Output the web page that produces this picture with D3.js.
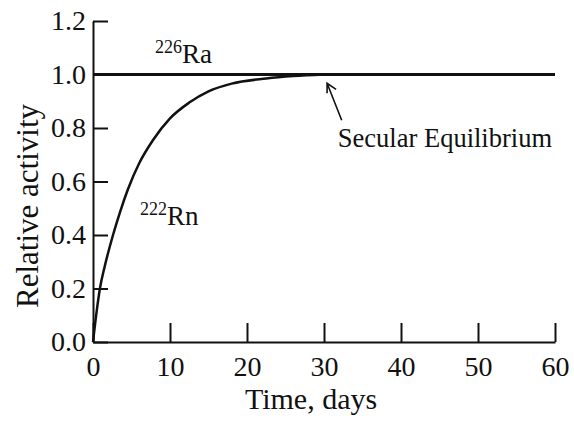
<!DOCTYPE html>
<html>
<head>
<meta charset="utf-8">
<script src="https://cdn.jsdelivr.net/npm/d3@7"></script>
<style>
       html, body { margin: 0; padding: 0; background: #fff; }
       svg { display: block; }
       text { font-family: "Liberation Serif", "Times New Roman", serif; fill: #111; }
</style>
</head>
<body>
<div id="chart"></div>
<script>
// values
const rnDays = [0, 0.5, 0.9, 1.5, 2.6, 3.5, 4.55, 6, 7.8, 10, 12.5, 15, 18, 22.5, 26, 30];
const rnActivity = [0, 0.12, 0.2, 0.28, 0.4, 0.485, 0.572, 0.668, 0.755, 0.836, 0.895, 0.937, 0.966, 0.985, 0.994, 1.0];
const raDays = [0, 60];
const raActivity = [1, 1];
const xTicks = [0, 10, 20, 30, 40, 50, 60];
const yTicks = [0, 0.2, 0.4, 0.6, 0.8, 1.0, 1.2];

const width = 574, height = 421;
const margin = { top: 21, right: 19, bottom: 79, left: 93 };

const svg = d3.select("#chart").append("svg")
       .attr("width", width)
       .attr("height", height);

const x = d3.scaleLinear().domain([0, 60]).range([margin.left, width - margin.right]);
const y = d3.scaleLinear().domain([0, 1.2]).range([height - margin.bottom, margin.top]);

// axes, ticks pointing inward
const xAxis = svg.append("g")
       .attr("transform", `translate(0, ${y(0)})`)
       .call(d3.axisBottom(x).tickValues(xTicks).tickSizeInner(-19).tickSizeOuter(0).tickPadding(14));

const yAxis = svg.append("g")
       .attr("transform", `translate(${x(0)}, 0)`)
       .call(d3.axisLeft(y).tickValues(yTicks).tickFormat(d3.format(".1f")).tickSizeInner(-15).tickSizeOuter(0).tickPadding(7));

[xAxis, yAxis].forEach(g => {
       g.select(".domain").attr("stroke", "#111").attr("stroke-width", 2);
       g.selectAll(".tick line").attr("stroke", "#111").attr("stroke-width", 2);
       g.selectAll(".tick text")
              .style("font-family", "Liberation Serif, serif")
              .style("font-size", "28px")
              .attr("fill", "#111");
});

// 226Ra line
const line = d3.line()
       .x(d => x(d[0]))
       .y(d => y(d[1]));

svg.append("path")
       .datum(d3.zip(raDays, raActivity))
       .attr("d", line)
       .attr("fill", "none")
       .attr("stroke", "#111")
       .attr("stroke-width", 3);

// 222Rn ingrowth curve
svg.append("path")
       .datum(d3.zip(rnDays, rnActivity))
       .attr("d", line.curve(d3.curveMonotoneX))
       .attr("fill", "none")
       .attr("stroke", "#111")
       .attr("stroke-width", 2.5);

// labels
const isoLabel = (mass, sym, dx, dy) => {
       const t = svg.append("text")
              .attr("x", x(dx))
              .attr("y", y(dy))
              .style("font-size", "27px");
       t.append("tspan").text(mass).style("font-size", "18px").attr("dy", -10);
       t.append("tspan").text(sym).attr("dy", 10);
};
isoLabel("226", "Ra", 8.05, 1.042);
isoLabel("222", "Rn", 6.1, 0.437);

svg.append("text")
       .attr("x", x(31.8))
       .attr("y", y(0.728))
       .style("font-size", "26.5px")
       .text("Secular Equilibrium");

// arrow to where the curves meet
const tip = [x(30.4), y(0.967)];
svg.append("path")
       .attr("d", `M${x(32.3)},${y(0.829)}L${tip[0]},${tip[1]}M${tip[0]},${tip[1] + 10}L${tip[0]},${tip[1]}L${tip[0] + 9},${tip[1] + 6}`)
       .attr("fill", "none")
       .attr("stroke", "#111")
       .attr("stroke-width", 1.6);

// axis titles
svg.append("text")
       .attr("x", 311)
       .attr("y", 409)
       .attr("text-anchor", "middle")
       .style("font-size", "30px")
       .text("Time, days");

svg.append("text")
       .attr("transform", "translate(38, 206) rotate(-90)")
       .attr("text-anchor", "middle")
       .style("font-size", "31px")
       .text("Relative activity");
</script>
</body>
</html>
